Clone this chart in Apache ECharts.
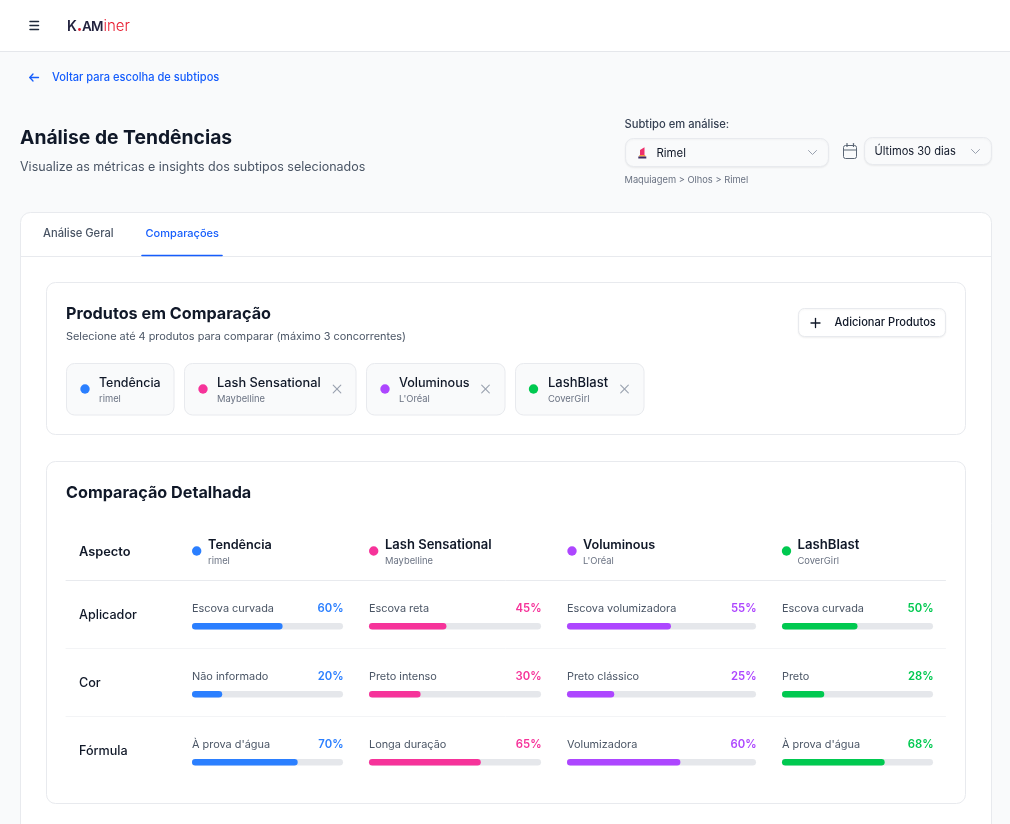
<!DOCTYPE html>
<html lang="pt"><head><meta charset="utf-8">
<style>html,body{margin:0;padding:0;background:#f9fafb;overflow:hidden}#c{width:1010px;height:824px}</style>
<script src="https://cdn.jsdelivr.net/npm/echarts@6/dist/echarts.min.js"></script>
</head><body><div id="c"></div>
<script>
const aspects = ['Aplicador','Cor','Fórmula'];
const products = ['Tendência','Lash Sensational','Voluminous','LashBlast'];
const brands = ['rimel','Maybelline',"L'Oréal",'CoverGirl'];
const colors = ['#2b7fff','#f6339a','#ad46ff','#00c950'];
const tendenciaLabels = ['Escova curvada','Não informado',"À prova d'água"];
const lashLabels = ['Escova reta','Preto intenso','Longa duração'];
const voluminousLabels = ['Escova volumizadora','Preto clássico','Volumizadora'];
const blastLabels = ['Escova curvada','Preto',"À prova d'água"];
const tendenciaValues = [60,20,70];
const lashValues = [45,30,65];
const voluminousValues = [55,25,60];
const blastValues = [50,28,68];
const labels = [tendenciaLabels,lashLabels,voluminousLabels,blastLabels];
const values = [tendenciaValues,lashValues,voluminousValues,blastValues];

const FONT='Inter, "Noto Sans", sans-serif';
const BORDER='#e8eaee';
const g=[];
function rect(x,y,w,h,r,fill,stroke){g.push({type:'rect',silent:true,shape:{x:x+.5,y:y+.5,width:stroke?w-1:w,height:stroke?h-1:h,r:r},style:{fill:fill||'#fff',stroke:stroke||null,lineWidth:stroke?1:0}});}
function shadowRect(x,y,w,h,r,fill,stroke){g.push({type:'rect',silent:true,shape:{x:x+.5,y:y+.5,width:w-1,height:h-1,r:r},style:{fill:fill,stroke:stroke,lineWidth:1,shadowBlur:2,shadowOffsetY:1,shadowColor:'rgba(0,0,0,0.05)'}});}
function txt(x,y,s,size,weight,color,align){g.push({type:'text',silent:true,x:x,y:y+0.8,style:{text:s,font:(weight||400)+' '+size+'px '+FONT,fill:color,align:align||'left',verticalAlign:'middle'}});}
function line(pts,color,w){g.push({type:'polyline',silent:true,shape:{points:pts},style:{stroke:color,lineWidth:w||1.3,fill:null,lineCap:'round',lineJoin:'round'}});}
function dot(x,y,r,c){g.push({type:'circle',silent:true,shape:{cx:x,cy:y,r:r},style:{fill:c}});}
function chevron(x,y,c){line([[x-4,y-2],[x,y+2],[x+4,y-2]],c,1);}
function cross(x,y){const c='#99a1af',d=3.8;line([[x-d,y-d],[x+d,y+d]],c,1.1);line([[x+d,y-d],[x-d,y+d]],c,1.1);}

// header
rect(-1,-1,1012,53,0,'#ffffff','#e5e7eb');
['21.5','25.5','29.5'].forEach(y=>line([[30,+y],[38.5,+y]],'#1e2939',1.5));
txt(67,26,'K',14,600,'#23233f');dot(79.5,29.5,1.4,'#e7182c');
txt(82,26,'A',13.5,600,'#23233f');txt(91,26,'M',13.5,600,'#23233f');txt(103.5,26,'iner',15,300,'#e7182c');
// back link
line([[30,77.5],[38.5,77.5]],'#155dfc',1.3);line([[33,74],[29.8,77.5],[33,81]],'#155dfc',1.3);
txt(52,77,'Voltar para escolha de subtipos',11.1,500,'#155dfc');
// title
txt(20,137.5,'Análise de Tendências',19.3,700,'#101828');
txt(20,166.5,'Visualize as métricas e insights dos subtipos selecionados',12.5,400,'#4a5565');
// selectors
txt(624.5,123.5,'Subtipo em análise:',11.2,500,'#364153');
shadowRect(625,138,204,29,8,'#f9fafb',BORDER);
// lipstick icon
g.push({type:'polygon',silent:true,shape:{points:[[640,150],[644.5,147.3],[644.5,155],[640,155]]},style:{fill:'#ee2f6c'}});
g.push({type:'rect',silent:true,shape:{x:639.3,y:155,width:6,height:1.6},style:{fill:'#f59e42'}});
g.push({type:'rect',silent:true,shape:{x:638.3,y:156.5,width:8,height:2},style:{fill:'#3b2a63'}});
txt(656.5,152.3,'Rimel',11.4,400,'#101828');chevron(812.5,152.5,'#99a1af');
// calendar
rect(843,145,14,14,2,'rgba(0,0,0,0)','#5b6675');line([[843.8,150],[856.5,150]],'#5b6675',1.2);line([[847,143.5],[847,146.5]],'#5b6675',1.2);line([[853.5,143.5],[853.5,146.5]],'#5b6675',1.2);
shadowRect(864,137,128,28,8,'#f9fafb',BORDER);
txt(874.5,150.5,'Últimos 30 dias',11.1,400,'#101828');chevron(975.5,151.5,'#99a1af');
txt(624.5,179.5,'Maquiagem > Olhos > Rimel',9.3,400,'#6a7282');
// main card
rect(20,212,972,640,10,'#ffffff',BORDER);
line([[21,256.5],[991,256.5]],BORDER,1);
txt(43,233,'Análise Geral',11.2,500,'#4a5565');
txt(145.5,233,'Comparações',11,500,'#155dfc');
line([[142,255.5],[222,255.5]],'#155dfc',1.6);
// products card
rect(46,282,920,153,9,'#ffffff',BORDER);
txt(66,313,'Produtos em Comparação',16.2,700,'#101828');
txt(66,335.5,'Selecione até 4 produtos para comparar (máximo 3 concorrentes)',10.9,400,'#4a5565');
shadowRect(798,308,148,29,6,'#ffffff',BORDER);
line([[811,323],[820,323]],'#101828',1.3);line([[815.5,318.5],[815.5,327.5]],'#101828',1.3);
txt(834.5,322.3,'Adicionar Produtos',11.1,500,'#101828');
const chips=[[66,108.5,85,99,0,12.4],[184,172.5,203,217,337,12.8],[366,139.5,385,399,485.5,12.6],[515,129.5,533.5,548,624.5,13]];
chips.forEach((c,i)=>{
  rect(c[0],363,c[1],52.5,8,'#f9fafb',BORDER);
  dot(c[2],389,4.7,colors[i]);
  txt(c[3],382,products[i],c[5],500,'#101828');
  txt(c[3],398,brands[i],9.4,400,'#6a7282');
  if(c[4])cross(c[4],389);
});
// comparison card
rect(46,461,920,343,9,'#ffffff',BORDER);
txt(66,492,'Comparação Detalhada',16.2,700,'#101828');
txt(79,551,'Aspecto',12.8,600,'#101828');
const cols=[[192,151],[369,172],[567,189],[782,151]];
const heads=[[196.7,208,12.7],[373.7,385,13],[572,583,12.7],[786.5,797.5,13.2]];
heads.forEach((h,i)=>{
  dot(h[0],551,4.7,colors[i]);
  txt(h[1],544,products[i],h[2],600,'#101828');
  txt(h[1],560.5,brands[i],9.4,400,'#6a7282');
});
line([[66,580.5],[945.5,580.5]],BORDER,1);
line([[66,648.5],[945.5,648.5]],'#f3f4f6',1);
line([[66,716.5],[945.5,716.5]],'#f3f4f6',1);
const rowTop=[623,691,759], rowText=[607.5,675.5,743.5], rowName=[614,682,750];
const grids=[],xAxes=[],yAxes=[],series=[];
aspects.forEach((a,r)=>{
  txt(79,rowName[r],a,12.6,500,'#101828');
  products.forEach((p,i)=>{
    const [x,w]=cols[i];
    txt(x,rowText[r],labels[i][r],10.9,400,'#4a5565');
    txt(x+w+.5,rowText[r],values[i][r]+'%',11.3,600,colors[i],'right');
    const k=grids.length;
    grids.push({left:x,top:rowTop[r],width:w,height:6.6,containLabel:false});
    xAxes.push({type:'value',gridIndex:k,min:0,max:100,show:false});
    yAxes.push({type:'category',gridIndex:k,data:[a],show:false});
    series.push({type:'bar',name:p,xAxisIndex:k,yAxisIndex:k,data:[values[i][r]],barWidth:6.6,
      itemStyle:{color:colors[i],borderRadius:3.3},showBackground:true,
      backgroundStyle:{color:'#e5e7eb',borderRadius:3.3},silent:true});
  });
});
const chart=echarts.init(document.getElementById('c'),null,{renderer:'canvas',width:1010,height:824});
chart.setOption({animation:false,backgroundColor:'#f9fafb',tooltip:{show:false},legend:{show:false},
  graphic:{elements:g},grid:grids,xAxis:xAxes,yAxis:yAxes,series:series});
</script></body></html>
